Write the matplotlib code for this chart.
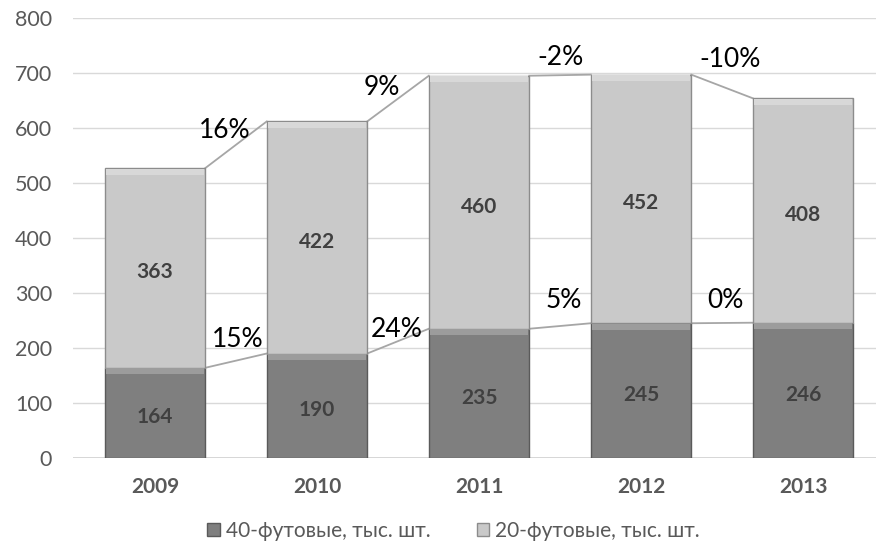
import numpy as np
import matplotlib.pyplot as plt
from matplotlib.patches import Patch

years = ["2009", "2010", "2011", "2012", "2013"]
ft40 = [164, 190, 235, 245, 246]
ft20 = [363, 422, 460, 452, 408]
growth_total = ["16%", "9%", "-2%", "-10%"]
growth_40 = ["15%", "24%", "5%", "0%"]

plt.rcParams['font.family'] = ['Lato', 'DejaVu Sans']

x = np.arange(len(years))
ft40 = np.array(ft40)
ft20 = np.array(ft20)
total = ft40 + ft20
w = 0.62

fig = plt.figure(figsize=(8.76, 5.44), dpi=100)
ax = fig.add_axes([73 / 876, 1 - 458 / 544, 803 / 876, 440 / 544])

dark = "#7f7f7f"
light = "#c9c9c9"

ax.bar(x, ft40, w, color=dark, edgecolor="#5a5a5a", linewidth=1.0, zorder=3)
ax.bar(x, ft20, w, bottom=ft40, color=light, edgecolor="#8c8c8c", linewidth=1.0, zorder=3)
# bevel highlight at the top of each segment
ax.bar(x, 11, w * 0.97, bottom=ft40 - 12, color="#9c9c9c", linewidth=0, zorder=4)
ax.bar(x, 11, w * 0.97, bottom=total - 12, color="#d8d8d8", linewidth=0, zorder=4)

# series lines between bars
for i in range(len(years) - 1):
    ax.plot([x[i] + w / 2, x[i + 1] - w / 2], [total[i], total[i + 1]],
            color="#a6a6a6", lw=1.3, zorder=2)
    ax.plot([x[i] + w / 2, x[i + 1] - w / 2], [ft40[i], ft40[i + 1]],
            color="#a6a6a6", lw=1.3, zorder=2)

for i in range(len(years)):
    ax.text(x[i], ft40[i] / 2 - 8, str(ft40[i]), ha="center", va="center",
            fontsize=15, fontweight="bold", color="#404040", zorder=5)
    ax.text(x[i], ft40[i] + ft20[i] / 2 - 8, str(ft20[i]), ha="center", va="center",
            fontsize=15, fontweight="bold", color="#404040", zorder=5)

# growth labels
top_dx = [-0.07, -0.10, 0.0, 0.05]
top_dy = [26, 20, 33, 49]
low_dx = [0.01, -0.01, 0.02, 0.02]
low_dy = [38, 21, 47, 41]
for i in range(len(years) - 1):
    mx = (x[i] + x[i + 1]) / 2
    my = (total[i] + total[i + 1]) / 2
    ax.text(mx + top_dx[i], my + top_dy[i], growth_total[i], ha="center", va="center",
            fontsize=19, color="#000000", zorder=6)
    my = (ft40[i] + ft40[i + 1]) / 2
    ax.text(mx + low_dx[i], my + low_dy[i], growth_40[i], ha="center", va="center",
            fontsize=19, color="#000000", zorder=6)

ax.set_ylim(0, 800)
ax.set_xlim(-0.506, 4.45)
ax.set_yticks(range(0, 801, 100))
ax.set_xticks(x)
ax.set_xticklabels(years, fontweight="bold", fontsize=15, color="#595959")
ax.tick_params(axis="y", labelsize=15.5, labelcolor="#595959", length=0, pad=15)
ax.tick_params(axis="x", length=0, pad=14)
ax.grid(axis="y", color="#d9d9d9", lw=1, zorder=0)
for s in ax.spines.values():
    s.set_visible(False)
ax.axhline(0, color="#d0d0d0", lw=1.2, zorder=1)

handles = [Patch(facecolor=dark, edgecolor="#5a5a5a", label="40-футовые, тыс. шт."),
           Patch(facecolor=light, edgecolor="#8c8c8c", label="20-футовые, тыс. шт.")]
fig.legend(handles=handles, loc="center", bbox_to_anchor=(0.518, 1 - 531 / 544), ncol=2,
           frameon=False, fontsize=15, handlelength=0.6, handleheight=0.6,
           handletextpad=0.3, columnspacing=2.2, labelcolor="#595959",
           borderpad=0, borderaxespad=0)

plt.savefig("out.png", dpi=100)
